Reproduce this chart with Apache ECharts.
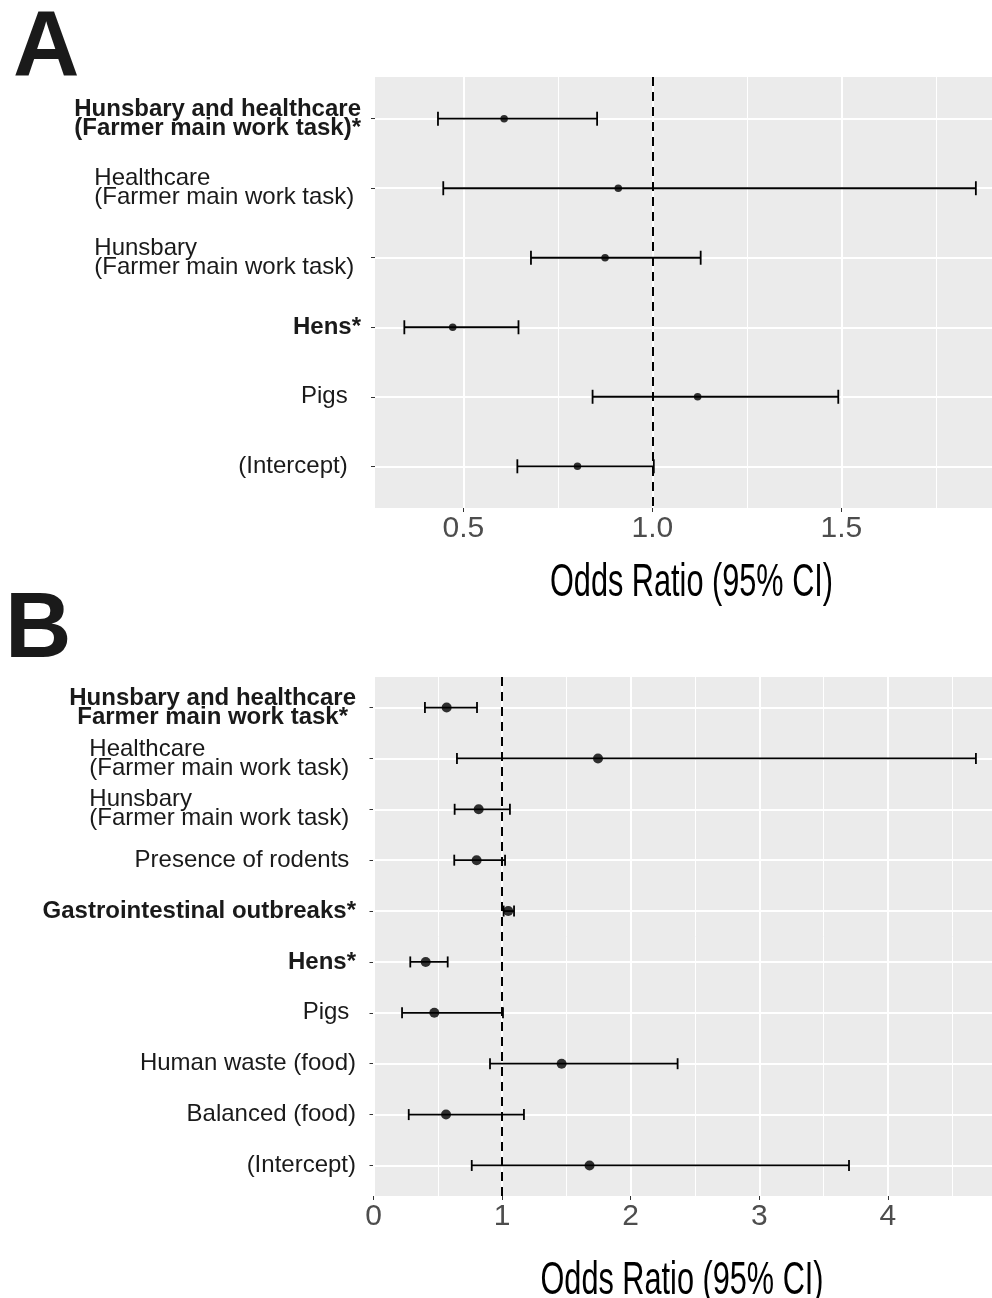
<!DOCTYPE html>
<html><head><meta charset="utf-8">
<script src="https://cdn.jsdelivr.net/npm/echarts@6/dist/echarts.min.js"></script>
<style>html,body{margin:0;padding:0;background:#fff}#c{width:992px;height:1298px}</style>
</head><body><div id="c"></div>
<script>
// ---------- Panel A data ----------
const catsA = ['Hunsbary and healthcare\n(Farmer main work task)*', 'Healthcare\n(Farmer main work task) ', 'Hunsbary\n(Farmer main work task) ', 'Hens*', 'Pigs  ', '(Intercept)  '];
const orA = [0.608, 0.910, 0.875, 0.472, 1.120, 0.802];
const loA = [0.433, 0.447, 0.679, 0.344, 0.842, 0.643];
const hiA = [0.854, 1.856, 1.128, 0.646, 1.492, 1.004];
const ticksA = [0.5, 1.0, 1.5];
const minorA = [0.75, 1.25, 1.75];
// ---------- Panel B data ----------
const catsB = ['Hunsbary and healthcare\nFarmer main work task*', 'Healthcare\n(Farmer main work task) ', 'Hunsbary\n(Farmer main work task) ', 'Presence of rodents ', 'Gastrointestinal outbreaks*', 'Hens*', 'Pigs ', 'Human waste (food)', 'Balanced (food)', '(Intercept)'];
const orB = [0.569, 1.746, 0.818, 0.802, 1.048, 0.406, 0.473, 1.463, 0.564, 1.680];
const loB = [0.400, 0.649, 0.631, 0.628, 1.012, 0.286, 0.222, 0.906, 0.274, 0.764];
const hiB = [0.805, 4.685, 1.061, 1.023, 1.093, 0.577, 1.007, 2.365, 1.170, 3.698];
const ticksB = [0, 1, 2, 3, 4];
const minorB = [0.5, 1.5, 2.5, 3.5, 4.5];
const refLine = 1;
const xTitle = 'Odds Ratio (95% CI)';

const FONT = '"Liberation Sans", Arial, Helvetica, sans-serif';
const centered = new Set([catsB[0]]);

function labelFmt(cats) {
  return function (v) {
    const t = cats[Math.round(v) - 1];
    if (t === undefined) return '';
    const bold = t.indexOf('*') >= 0;
    const key = (bold ? 'b' : 'r') + (centered.has(t) ? 'c' : '');
    return t.split('\n').map(l => '{' + key + '|' + l + '}').join('\n');
  };
}
const richBase = { fontSize: 24, lineHeight: 19, fontFamily: FONT, color: '#1a1a1a' };
const rich = {
  b: Object.assign({}, richBase, { fontWeight: 'bold', align: 'left' }),
  r: Object.assign({}, richBase, { fontWeight: 'normal', align: 'left' }),
  bc: Object.assign({}, richBase, { fontWeight: 'bold', align: 'center' }),
  rc: Object.assign({}, richBase, { fontWeight: 'normal', align: 'center' })
};

function errRender(cap, lw) {
  return function (params, api) {
    const y = api.value(2);
    const a = api.coord([api.value(0), y]);
    const b = api.coord([api.value(1), y]);
    const st = { stroke: '#000', lineWidth: lw };
    return {
      type: 'group', children: [
        { type: 'line', shape: { x1: a[0], y1: a[1], x2: b[0], y2: b[1] }, style: st },
        { type: 'line', shape: { x1: a[0], y1: a[1] - cap, x2: a[0], y2: a[1] + cap }, style: st },
        { type: 'line', shape: { x1: b[0], y1: b[1] - cap, x2: b[0], y2: b[1] + cap }, style: st }
      ]
    };
  };
}

function gridLines(n, major, minor) {
  const d = [];
  for (let i = 1; i <= n; i++) d.push({ yAxis: i, lineStyle: { color: '#fff', width: 2, type: 'solid' } });
  major.forEach(v => d.push({ xAxis: v, lineStyle: { color: '#fff', width: 2, type: 'solid' } }));
  minor.forEach(v => d.push({ xAxis: v, lineStyle: { color: '#fff', width: 1, type: 'solid' } }));
  return { silent: true, symbol: ['none', 'none'], label: { show: false }, z: 1, animation: false, data: d, emphasis: { disabled: true } };
}

function xAxisDef(gi, min, max, ticks, fmt) {
  return {
    gridIndex: gi, type: 'value', min: min, max: max,
    splitLine: { show: false }, axisLine: { show: false },
    axisTick: { show: true, length: 4, lineStyle: { color: '#333', width: 1 }, customValues: ticks },
    axisLabel: { customValues: ticks, formatter: fmt, fontSize: 30, fontFamily: FONT, color: '#4d4d4d', margin: 6 }
  };
}
function yAxisDef(gi, cats, margin) {
  const vals = cats.map((c, i) => i + 1);
  return {
    gridIndex: gi, type: 'value', inverse: true, min: 0.4, max: cats.length + 0.6,
    splitLine: { show: false }, axisLine: { show: false },
    axisTick: { show: true, length: 4, lineStyle: { color: '#333', width: 1 }, customValues: vals },
    axisLabel: { customValues: vals, formatter: labelFmt(cats), rich: rich, align: 'right', margin: margin }
  };
}

function seriesFor(idx, lo, hi, or, n, major, minor, cap, sym) {
  return [
    {
      type: 'custom', xAxisIndex: idx, yAxisIndex: idx, z: 3,
      renderItem: errRender(cap, 1.8),
      data: lo.map((l, i) => [l, hi[i], i + 1]),
      encode: { x: [0, 1], y: 2 },
      markLine: gridLines(n, major, minor),
      silent: true
    },
    {
      type: 'scatter', xAxisIndex: idx, yAxisIndex: idx, z: 4,
      symbol: 'circle', symbolSize: sym,
      itemStyle: { color: '#000' },
      data: or.map((v, i) => [v, i + 1]),
      markLine: {
        silent: true, symbol: ['none', 'none'], label: { show: false }, z: 2, animation: false,
        lineStyle: { color: '#000', width: 2, type: [9, 6] },
        data: [{ xAxis: refLine }]
      },
      silent: true
    }
  ];
}

const chart = echarts.init(document.getElementById('c'), null, { renderer: 'canvas' });
chart.setOption({
  animation: false,
  backgroundColor: '#fff',
  grid: [
    { left: 375, top: 77, right: 0, height: 431, show: true, backgroundColor: '#EBEBEB', borderWidth: 0, containLabel: false },
    { left: 373.5, top: 677, right: 0, height: 519, show: true, backgroundColor: '#EBEBEB', borderWidth: 0, containLabel: false }
  ],
  xAxis: [
    xAxisDef(0, 0.2664, 1.8987, ticksA, v => v.toFixed(1)),
    xAxisDef(1, 0, 4.81, ticksB, v => String(Math.round(v)))
  ],
  yAxis: [
    yAxisDef(0, catsA, 14),
    yAxisDef(1, catsB, 17.5)
  ],
  series: [].concat(
    seriesFor(0, loA, hiA, orA, catsA.length, ticksA, minorA, 7, 7.5),
    seriesFor(1, loB, hiB, orB, catsB.length, ticksB, minorB, 5.5, 10)
  ),
  graphic: [
    { type: 'text', x: 13, y: 50, style: { text: 'A', font: 'bold 92px ' + FONT, fill: '#1a1a1a', align: 'left', verticalAlign: 'middle' } },
    { type: 'text', x: 5, y: 632, style: { text: 'B', font: 'bold 92px ' + FONT, fill: '#1a1a1a', align: 'left', verticalAlign: 'middle' } },
    { type: 'text', x: 691.5, y: 583, scaleX: 0.667, style: { text: xTitle, font: '46px ' + FONT, fill: '#000', align: 'center', verticalAlign: 'middle' } },
    { type: 'text', x: 682, y: 1281, scaleX: 0.667, style: { text: xTitle, font: '46px ' + FONT, fill: '#000', align: 'center', verticalAlign: 'middle' } }
  ]
});
</script></body></html>
